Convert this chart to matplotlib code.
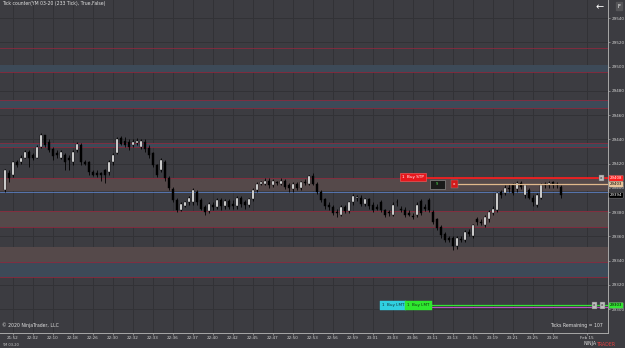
"""Tick chart of YM 03-20 (233 tick bars) with zones and working orders."""

import matplotlib
matplotlib.use('Agg')
import numpy as np
import matplotlib.pyplot as plt

# bar data (points)
opens = [29398, 29412, 29411, 29421, 29421, 29425, 29430, 29427, 29425, 29434,
         29444, 29438, 29432, 29429, 29425, 29427, 29425, 29421, 29431, 29435,
         29421, 29421, 29413, 29412, 29412, 29415, 29413, 29421, 29429, 29441,
         29439, 29438, 29435, 29437, 29434, 29438, 29433, 29429, 29419, 29415,
         29421, 29408, 29399, 29390, 29382, 29385, 29388, 29388, 29397, 29390,
         29384, 29381, 29386, 29384, 29390, 29385, 29389, 29387, 29385, 29392,
         29388, 29386, 29391, 29398, 29403, 29403, 29406, 29402, 29405, 29403,
         29406, 29402, 29399, 29403, 29400, 29405, 29403, 29410, 29403, 29397,
         29391, 29386, 29384, 29380, 29378, 29384, 29381, 29388, 29392, 29392,
         29387, 29391, 29386, 29384, 29388, 29382, 29380, 29378, 29388, 29383,
         29382, 29379, 29377, 29378, 29389, 29384, 29390, 29380, 29374, 29368,
         29362, 29359, 29359, 29352, 29358, 29357, 29364, 29360, 29374, 29372,
         29369, 29374, 29379, 29382, 29397, 29396, 29400, 29402, 29399, 29404,
         29394, 29398, 29392, 29386, 29392, 29402, 29402, 29405, 29402, 29401]
closes = [29415, 29408, 29421, 29419, 29425, 29430, 29425, 29425, 29434, 29444,
          29435, 29431, 29426, 29427, 29430, 29421, 29423, 29430, 29436, 29421,
          29420, 29413, 29411, 29411, 29411, 29411, 29421, 29427, 29440, 29436,
          29435, 29434, 29438, 29439, 29439, 29432, 29427, 29419, 29411, 29423,
          29408, 29400, 29390, 29382, 29387, 29388, 29392, 29398, 29388, 29383,
          29380, 29387, 29384, 29390, 29385, 29389, 29384, 29385, 29392, 29387,
          29386, 29391, 29398, 29403, 29405, 29406, 29402, 29406, 29404, 29406,
          29401, 29400, 29403, 29400, 29405, 29404, 29410, 29403, 29397, 29390,
          29385, 29384, 29379, 29379, 29384, 29381, 29388, 29393, 29392, 29387,
          29391, 29385, 29382, 29383, 29382, 29378, 29379, 29386, 29388, 29382,
          29378, 29378, 29376, 29386, 29379, 29383, 29382, 29372, 29367, 29361,
          29357, 29357, 29352, 29359, 29357, 29364, 29362, 29369, 29372, 29371,
          29376, 29380, 29383, 29396, 29394, 29400, 29399, 29396, 29404, 29401,
          29402, 29392, 29388, 29394, 29402, 29403, 29404, 29402, 29403, 29394]
highs = [29416, 29415, 29422, 29423, 29427, 29431, 29431, 29429, 29435, 29445,
         29444, 29440, 29434, 29431, 29431, 29429, 29427, 29431, 29438, 29437,
         29423, 29422, 29415, 29415, 29413, 29416, 29423, 29429, 29442, 29443,
         29442, 29440, 29440, 29441, 29440, 29440, 29435, 29430, 29420, 29425,
         29423, 29410, 29401, 29392, 29388, 29389, 29393, 29400, 29398, 29392,
         29386, 29388, 29388, 29392, 29392, 29391, 29391, 29390, 29393, 29393,
         29390, 29392, 29400, 29405, 29406, 29408, 29408, 29407, 29406, 29408,
         29407, 29404, 29405, 29405, 29406, 29407, 29411, 29412, 29405, 29398,
         29392, 29388, 29386, 29383, 29386, 29386, 29389, 29395, 29394, 29394,
         29392, 29392, 29388, 29387, 29390, 29383, 29382, 29388, 29391, 29385,
         29384, 29382, 29379, 29388, 29391, 29387, 29392, 29382, 29375, 29369,
         29364, 29360, 29360, 29360, 29360, 29365, 29366, 29370, 29376, 29374,
         29378, 29382, 29385, 29397, 29398, 29402, 29403, 29404, 29406, 29406,
         29403, 29400, 29394, 29396, 29404, 29405, 29406, 29406, 29405, 29402]
lows = [29397, 29405, 29409, 29417, 29420, 29425, 29417, 29423, 29425, 29433,
        29434, 29430, 29423, 29425, 29424, 29415, 29415, 29419, 29430, 29419,
        29419, 29411, 29410, 29409, 29406, 29404, 29411, 29419, 29428, 29435,
        29434, 29431, 29434, 29435, 29432, 29430, 29425, 29417, 29409, 29413,
        29406, 29398, 29388, 29380, 29381, 29384, 29386, 29386, 29386, 29382,
        29378, 29379, 29382, 29383, 29382, 29383, 29383, 29383, 29383, 29384,
        29383, 29384, 29389, 29397, 29402, 29402, 29400, 29401, 29402, 29402,
        29399, 29397, 29397, 29398, 29398, 29402, 29402, 29402, 29395, 29388,
        29383, 29382, 29378, 29376, 29377, 29379, 29379, 29386, 29389, 29385,
        29385, 29383, 29380, 29382, 29380, 29376, 29377, 29377, 29385, 29380,
        29376, 29377, 29374, 29376, 29378, 29381, 29380, 29370, 29365, 29359,
        29355, 29355, 29349, 29350, 29355, 29355, 29360, 29359, 29369, 29369,
        29368, 29372, 29378, 29380, 29392, 29394, 29397, 29394, 29397, 29399,
        29392, 29391, 29385, 29384, 29391, 29400, 29400, 29400, 29400, 29392]

time_labels = ['21:52', '22:02', '22:10', '22:18', '22:26', '22:30', '22:32',
               '22:33', '22:36', '22:37', '22:40', '22:42', '22:45', '22:47',
               '22:50', '22:53', '22:56', '22:59', '23:01', '23:03', '23:06',
               '23:11', '23:13', '23:15', '23:19', '23:21', '23:25', '23:28']
date_label = 'Feb 15'
price_ticks = list(range(29300, 29541, 20))

# zones
brown_zones = [(29397.4, 29408.2), (29367.7, 29380.9), (29338.9, 29351.2)]
blue_zones = [(29495.6, 29501.4), (29465.9, 29472.5), (29433.7, 29437.0),
              (29326.5, 29338.9)]
zone_lines = [29515.4, 29495.6, 29472.5, 29465.9, 29437.0, 29433.7, 29408.2,
              29380.9, 29367.7, 29338.9, 29326.5]
blue_line = 29396.6

# working orders
stop_price = 29408
position_price = 29403
limit_price = 29303
position_qty = 9
ticks_remaining = 107

BG = '#3c3c41'
GRID = '#323236'
AXIS = '#a8a8a8'

fig = plt.figure(figsize=(6.25, 3.48), dpi=100)
fig.patch.set_facecolor(BG)
ax = fig.add_axes([0, 15 / 348, 608 / 625, 333 / 348])
ax.set_facecolor(BG)

o = np.array(opens)
c = np.array(closes)
h = np.array(highs)
l = np.array(lows)
idx = np.arange(len(c))
up = c >= o

ax.set_xlim(-1.25, 150.75)
ax.set_ylim(29280.3, 29555)

for lo, hi in brown_zones:
    ax.axhspan(lo, hi, color='#55494a', lw=0, zorder=1)
for lo, hi in blue_zones:
    ax.axhspan(lo, hi, color='#3d4a58', lw=0, zorder=1)
for y in zone_lines:
    ax.axhline(y, color='#8a2a3e', lw=0.6, zorder=1.5)
ax.axhline(blue_line, color='#5a7ec0', lw=0.6, zorder=1.5)

# candles
ax.vlines(idx, l, h, color='black', lw=0.6, zorder=3)
bottom = np.minimum(o, c)
height = np.maximum(np.abs(c - o), 0.5)
ax.bar(idx[up], height[up], bottom=bottom[up], width=0.72, color='white',
       edgecolor='black', lw=0.3, zorder=4)
ax.bar(idx[~up], height[~up], bottom=bottom[~up], width=0.72, color='black',
       edgecolor='black', lw=0.3, zorder=4)

# order lines
ax.hlines(stop_price, 98.75, 150.75, color='#ff1e1e', lw=1.2, zorder=5)
ax.hlines(position_price, 112.5, 150.75, color='#e2b98c', lw=0.9, zorder=5)
ax.hlines(limit_price - 1.3, 93.75, 150.75, color='#c050c8', lw=0.7, zorder=5)
ax.hlines(limit_price, 106.25, 150.75, color='#33e633', lw=0.9, zorder=5)

small = dict(fontsize=3, va='center', zorder=6)
ax.text(99.3, stop_price + 0.8, '1  Buy STP', color='white',
        bbox=dict(boxstyle='square,pad=0.5', fc='#e8161c', ec='#ff6060', lw=0.4), **small)
ax.text(106.8, position_price, '   %d   ' % position_qty, color='#49d049',
        bbox=dict(boxstyle='square,pad=0.6', fc='#1a1a1a', ec='#888888', lw=0.5), **small)
ax.text(112.0, position_price, 'x', color='white',
        bbox=dict(boxstyle='square,pad=0.5', fc='#d41a1a', ec='#888888', lw=0.3), **small)
ax.text(94.2, limit_price, '1  Buy LMT', color='#10303a',
        bbox=dict(boxstyle='square,pad=0.5', fc='#30d0e0', ec='#30d0e0', lw=0.3), **small)
ax.text(100.6, limit_price, '1  Buy LMT', color='#103010',
        bbox=dict(boxstyle='square,pad=0.5', fc='#2ee82e', ec='#2ee82e', lw=0.3), **small)
for xi, yi in [(149.0, stop_price), (147.4, limit_price), (149.3, limit_price)]:
    ax.text(xi, yi, 'x', color='#222222', ha='center',
            bbox=dict(boxstyle='square,pad=0.3', fc='#bdbdbd', ec='#666666', lw=0.3), **small)

# axes styling
ax.set_xticks([2 + 5 * k for k in range(len(time_labels))] + [145.5])
ax.set_xticklabels(time_labels + [date_label])
ax.set_yticks(price_ticks)
ax.set_yticklabels([str(p) for p in price_ticks])
ax.yaxis.tick_right()
ax.tick_params(axis='both', labelsize=3.0, colors=AXIS, length=1.5, width=0.5, pad=1)
ax.tick_params(axis='x', labelcolor='#d0d0d0')
ax.tick_params(axis='y', labelcolor='#d0d0d0')
ax.grid(True, color=GRID, lw=0.7, zorder=0)
ax.set_axisbelow(True)
for side in ['top', 'left']:
    ax.spines[side].set_visible(False)
for side in ['right', 'bottom']:
    ax.spines[side].set_color(AXIS)
    ax.spines[side].set_linewidth(0.7)

# price markers on the axis
ytr = ax.get_yaxis_transform()
markers = [(stop_price, '#ff1e1e', 'white'),
           (position_price, '#e8c49a', 'black'),
           (closes[-1], 'black', 'white'),
           (limit_price, '#33e633', 'black')]
for p, fc, tc in markers:
    ax.text(1.003, p, str(p), transform=ytr, fontsize=2.8, color=tc, va='center',
            ha='left', clip_on=False, zorder=7,
            bbox=dict(boxstyle='round,pad=0.25', fc=fc, ec='#888888', lw=0.3))

# chart texts
fig.text(2 / 625, 1 - 4 / 348, 'Tick counter(YM 03-20 (233 Tick), True,False)',
         fontsize=3.3, color='#e0e0e0', va='center')
fig.text(2 / 625, 1 - 325 / 348, '\u00a9 2020 NinjaTrader, LLC',
         fontsize=3.3, color='#e0e0e0', va='center')
fig.text(603 / 625, 1 - 325 / 348, 'Ticks Remaining = %d' % ticks_remaining,
         fontsize=3.3, color='#e0e0e0', va='center', ha='right')
fig.text(2 / 625, 1 - 345 / 348, 'YM 03-20', fontsize=2.6, color='#c8c8c8', va='center')
fig.text(600 / 625, 1 - 7 / 348, '\u2190', fontsize=7, color='white', va='center', ha='center')
fig.text(619 / 625, 1 - 6 / 348, 'F', fontsize=3.8, color='white', va='center', ha='center',
         bbox=dict(boxstyle='square,pad=0.3', fc='#555558', ec='#555558'))
fig.text(583 / 625, 1 - 344 / 348, 'NINJA', fontsize=3.4, color='#d8d8d8', va='center',
         ha='left')
fig.text(597 / 625, 1 - 344 / 348, 'TRADER', fontsize=3.4, color='#e04040', va='center',
         ha='left')

fig.savefig('out.png', dpi=100, facecolor=BG)
